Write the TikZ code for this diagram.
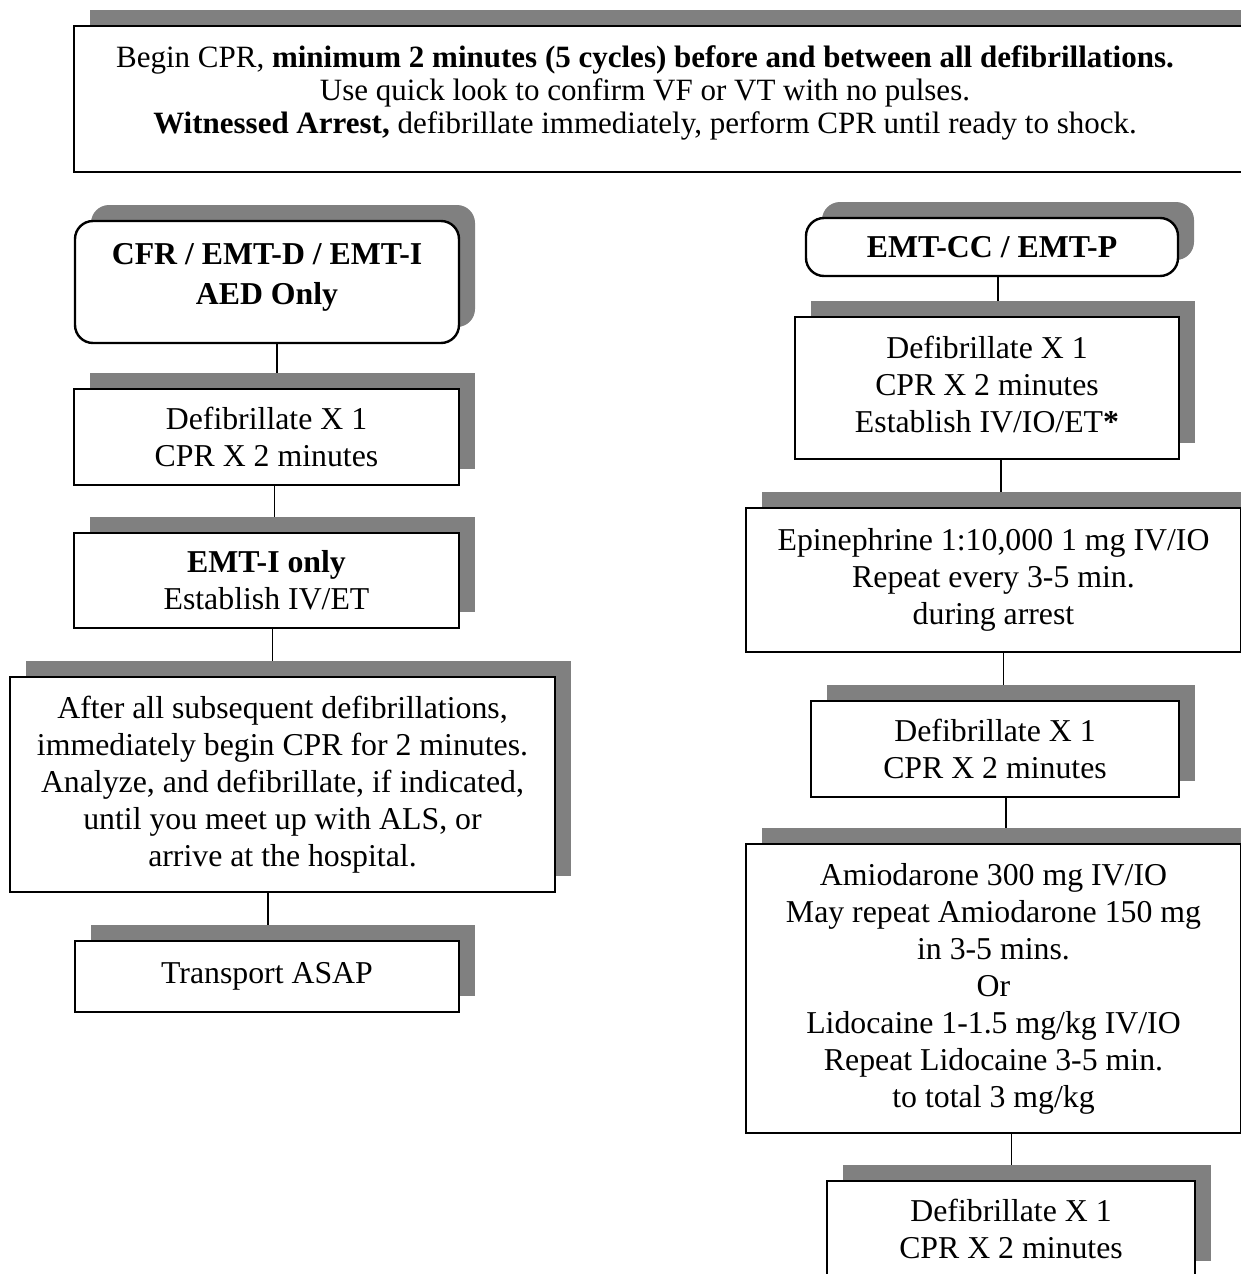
\documentclass[tikz,border=0pt]{standalone}
\usepackage{fontspec}
\setmainfont{Liberation Serif}
\usetikzlibrary{backgrounds}
\definecolor{shadowgray}{RGB}{128,128,128}
\newcommand{\bodysize}{\fontsize{15.9pt}{18.5pt}\selectfont}
\newcommand{\topsize}{\fontsize{15.5pt}{16.6pt}\selectfont}
\newcommand{\tailgap}[1]{\rule[-#1]{0pt}{#1}}
\tikzset{
  flowbox/.style={draw, line width=1.2pt, fill=white, align=center, inner sep=0pt, font=\bodysize,
    preaction={fill=shadowgray, draw=none, transform canvas={xshift=8pt, yshift=8pt}}},
  roundbox/.style={flowbox, rounded corners=9pt},
  link/.style={line width=0.8pt}
}
\begin{document}
\begin{tikzpicture}[x=1pt, y=-1pt]
\useasboundingbox (0,0) rectangle (620.5,637);
\clip (0,0) rectangle (620.5,637);

\node[flowbox, font=\topsize, minimum width=593pt, minimum height=73pt] (start) at (333.5,49.5)
  {\begin{tabular}{@{}c@{}}Begin CPR, \textbf{minimum 2 minutes (5 cycles) before and between all defibrillations.}\\
  Use quick look to confirm VF or VT with no pulses.\\
  \textbf{Witnessed Arrest,} defibrillate immediately, perform CPR until ready to shock.\\[5pt]\end{tabular}\hspace*{22pt}};

% AED column
\node[roundbox, minimum width=192pt, minimum height=61pt] (cfr) at (133.5,141) {\textbf{CFR / EMT-D / EMT-I}\\[1.5pt]\textbf{AED Only}\tailgap{8.5pt}};
\node[flowbox, minimum width=192.5pt, minimum height=48pt] (ldefib) at (133.25,218.5) {Defibrillate X 1\\CPR X 2 minutes};
\node[flowbox, minimum width=192.5pt, minimum height=47.5pt] (emti) at (133.25,290.25) {\textbf{EMT-I only}\\Establish IV/ET};
\node[flowbox, minimum width=272.5pt, minimum height=107.5pt] (after) at (141.25,392.25)
  {After all subsequent defibrillations,\\immediately begin CPR for 2 minutes.\\Analyze, and defibrillate, if indicated,\\until you meet up with ALS, or\\arrive at the hospital.};
\node[flowbox, minimum width=192pt, minimum height=35.5pt] (transport) at (133.5,488.25) {Transport ASAP};

% ALS column
\node[roundbox, minimum width=186pt, minimum height=29pt] (als) at (496,123.5) {\textbf{EMT-CC / EMT-P}};
\node[flowbox, minimum width=192pt, minimum height=71pt] (rdefiba) at (493.5,194) {Defibrillate X 1\\CPR X 2 minutes\\Establish IV/IO/ET\textbf{*}\tailgap{4pt}};
\node[flowbox, minimum width=247.5pt, minimum height=72pt] (epi) at (496.75,290) {Epinephrine 1:10,000 1 mg IV/IO\\Repeat every 3-5 min.\\during arrest};
\node[flowbox, minimum width=184pt, minimum height=48pt] (rdefibb) at (497.5,374.5) {Defibrillate X 1\\CPR X 2 minutes};
\node[flowbox, minimum width=247.5pt, minimum height=144.5pt] (amio) at (496.75,494.25)
  {Amiodarone 300 mg IV/IO\\May repeat Amiodarone 150 mg\\in 3-5 mins.\\Or\\Lidocaine 1-1.5 mg/kg IV/IO\\Repeat Lidocaine 3-5 min.\\to total 3 mg/kg};
\node[flowbox, minimum width=184pt, minimum height=48pt] (rdefibc) at (505.5,614.5) {Defibrillate X 1\\CPR X 2 minutes};

\begin{scope}[on background layer]
\foreach \a/\b/\s in {cfr/ldefib/5, ldefib/emti/4, emti/after/3, transport/after/0.5,
                      als/rdefiba/3, rdefiba/epi/7, epi/rdefibb/5, rdefibb/amio/5.5, amio/rdefibc/9}{
  \draw[link] ([xshift=\s pt]\a.south) -- ([xshift=\s pt]\a.south |- \b.north);
}
\end{scope}
\end{tikzpicture}
\end{document}
